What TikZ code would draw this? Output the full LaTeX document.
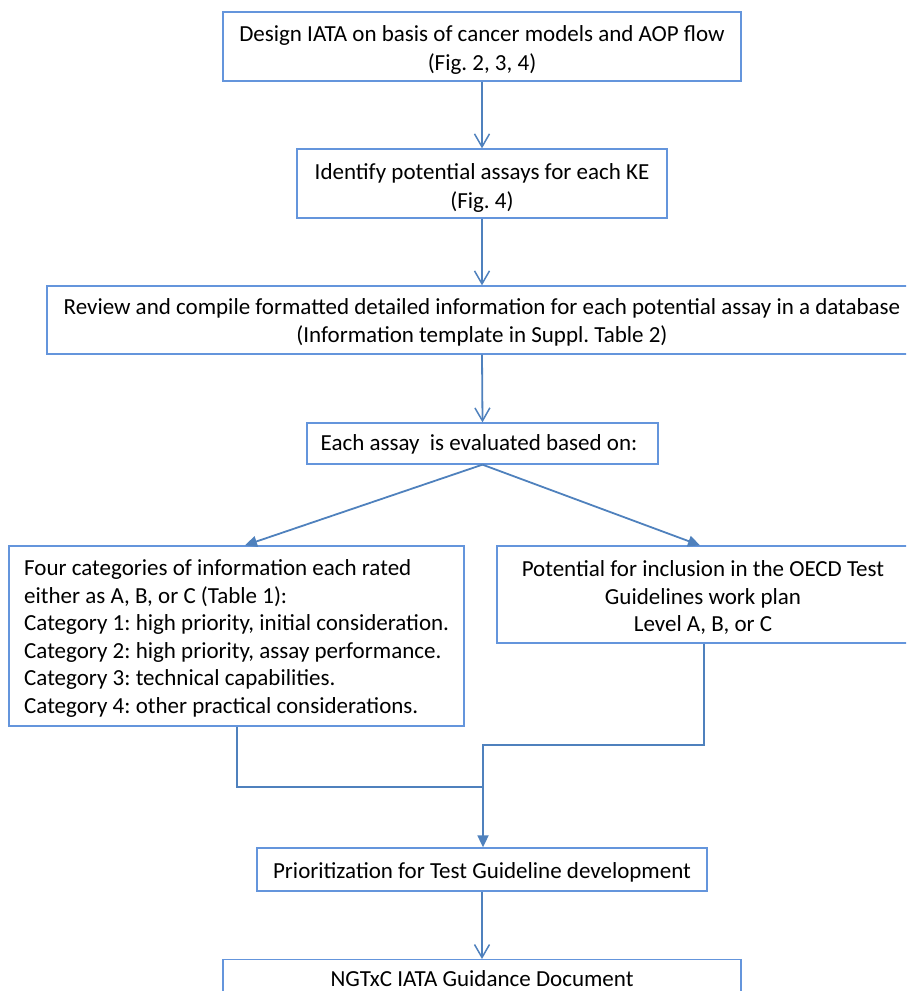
\documentclass[tikz,border=0pt]{standalone}
\usepackage{fontspec}
\setmainfont{Carlito}
\usetikzlibrary{arrows.meta}
\definecolor{boxc}{RGB}{100,149,220}
\definecolor{linec}{RGB}{79,129,189}
\begin{document}
\frenchspacing
\begin{tikzpicture}[x=1pt,y=-1pt,
  box/.style={draw=boxc, line width=1.3pt, inner sep=0pt},
  txt/.style={inner sep=0pt, align=center, font=\fontsize{23}{27.5}\selectfont},
  wide/.style={font=\fontsize{23}{29.5}\selectfont},
  conn/.style={draw=linec, line width=1.8pt},
  vtip/.style={-{Straight Barb[length=13pt,width=15pt,line width=1.5pt]}},
  ftip/.style={-{Triangle[length=12pt,width=11pt]}}]
\useasboundingbox (0,0) rectangle (906,991);
\clip (0,0) rectangle (906,991);

\node[box, minimum width=518, minimum height=69] (b1) at (482,46.5) {};
\node[txt, wide] (b1t) at (482,50)
  {Design IATA on basis of cancer models and AOP flow\\(Fig. 2, 3, 4)};
\node[box, minimum width=370, minimum height=69] (b2) at (482,183.5) {};
\node[txt, wide] (b2t) at (482,188)
  {Identify potential assays for each KE\\(Fig. 4)};
\node[box, minimum width=870, minimum height=68] (b3) at (482,320) {};
\node[txt] (b3t) at (482,322.5)
  {Review and compile formatted detailed information for each potential assay in a database\\(Information template in Suppl. Table 2)};
\node[box, minimum width=351, minimum height=41] (b4) at (482.5,443.5) {};
\node[txt] (b4t) at (479,444.5) {Each assay\ \ is evaluated based on:};
\node[box, minimum width=455, minimum height=180] (b5) at (236.5,636) {};
\node[txt, align=left, anchor=west] (b5t) at (24,638.5)
  {Four categories of information each rated\\either as A, B, or C (Table 1):\\Category 1: high priority, initial consideration.\\Category 2: high priority, assay performance.\\Category 3: technical capabilities.\\Category 4: other practical considerations.};
\node[box, minimum width=412, minimum height=97] (b6) at (703,594.5) {};
\node[txt] (b6t) at (703,597.5)
  {Potential for inclusion in the OECD Test\\Guidelines work plan\\Level A, B, or C};
\node[box, minimum width=450, minimum height=43] (b7) at (482,869.5) {};
\node[txt] (b7t) at (482,872.5) {Prioritization for Test Guideline development};
\node[box, minimum width=518, minimum height=64, anchor=north] (b8) at (482,959) {};
\node[txt] (b8t) at (482,979) {NGTxC IATA Guidance Document};

\coordinate (m1) at (483,787);
\coordinate (m2) at (483,745);

\draw[conn,vtip] (b1.south) -- (b2.north);
\draw[conn,vtip] (b2.south) -- (b3.north);
\draw[conn,vtip] (b3.south) -- (b4.north);
\draw[conn,ftip] (b4.south) -- ([xshift=8.5pt]b5.north);
\draw[conn,ftip] (b4.south) -- ([xshift=-3pt]b6.north);
\draw[conn] ([xshift=0.5pt]b5.south) |- (m1);
\draw[conn,ftip] ([xshift=1pt]b6.south) |- (m2) -- (m2 |- b7.north);
\draw[conn,vtip] (b7.south) -- (b8.north);
\end{tikzpicture}
\end{document}
